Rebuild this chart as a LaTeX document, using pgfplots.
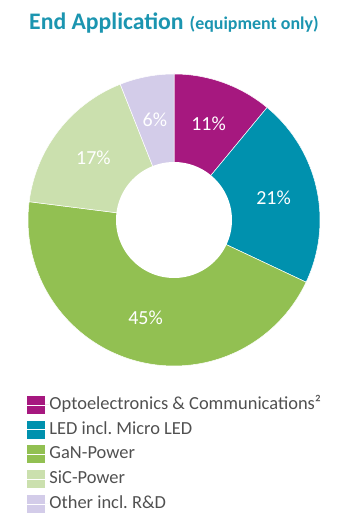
\documentclass[border=0pt]{standalone}
\usepackage{pgfplots}
\pgfplotsset{compat=1.18}
\usepackage{pgfplotstable}
\usepackage{fontspec}
\setmainfont{Carlito}
\frenchspacing
\definecolor{copto}{HTML}{A6187F}
\definecolor{cled}{HTML}{0091AE}
\definecolor{cgan}{HTML}{92C052}
\definecolor{csic}{HTML}{CBE0AE}
\definecolor{coth}{HTML}{D3CCE9}
\definecolor{ctitle}{HTML}{1B95B0}
\definecolor{clegend}{HTML}{505050}

\pgfplotstableread{
name value
Opto 11
LED 21
GaN 45
SiC 17
Other 6
}\sharetable

\pgfplotstablegetelem{0}{value}\of\sharetable \edef\vA{\pgfplotsretval}
\pgfplotstablegetelem{1}{value}\of\sharetable \edef\vB{\pgfplotsretval}
\pgfplotstablegetelem{2}{value}\of\sharetable \edef\vC{\pgfplotsretval}
\pgfplotstablegetelem{3}{value}\of\sharetable \edef\vD{\pgfplotsretval}
\pgfplotstablegetelem{4}{value}\of\sharetable \edef\vE{\pgfplotsretval}
\pgfmathsetmacro\cA{\vA}
\pgfmathsetmacro\cB{\cA+\vB}
\pgfmathsetmacro\cC{\cB+\vC}
\pgfmathsetmacro\cD{\cC+\vD}
\pgfmathsetmacro\cE{\cD+\vE}

% label positions (mid-angle, radius 102)
\newcommand\labelpos[3]{%
  \pgfmathsetmacro\tmpang{90-3.6*(#1+#2)/2}%
  \pgfmathsetmacro\tmpx{174+102*cos(\tmpang)}%
  \pgfmathsetmacro\tmpy{311+102*sin(\tmpang)}%
  \expandafter\xdef\csname lx#3\endcsname{\tmpx}%
  \expandafter\xdef\csname ly#3\endcsname{\tmpy}%
}
\labelpos{0}{\cA}{A}
\labelpos{\cA}{\cB}{B}
\labelpos{\cB}{\cC}{C}
\labelpos{\cC}{\cD}{D}
\labelpos{\cD}{\cE}{E}

\newcommand\slice[4]{%
  \addplot[fill=#3, draw=white, line width=0.5bp, domain={90-3.6*#2}:{90-3.6*#1}, samples=90, variable=\t]
    ({174+146*cos(\t)}, {311+146*sin(\t)}) -- (axis cs:174,311) -- cycle;
  \addlegendentry{#4}
}

\begin{document}
\begin{tikzpicture}
\begin{axis}[
  scale only axis, width=356bp, height=531bp,
  xmin=0, xmax=356, ymin=0, ymax=531,
  hide axis, clip=false,
  legend cell align=left,
  legend image code/.code={\fill[#1, draw=none] (0bp,-9bp) rectangle (18bp,9bp); \path (0bp,0bp) -- (22bp,0bp);},
  legend style={at={(0.07584,0.25424)}, anchor=north west, draw=none, fill=none,
    inner sep=0pt, outer sep=0pt, row sep=6.7bp,
    nodes={inner sep=0pt, text=clegend, font=\fontsize{18.5}{22}\selectfont, text height=13.5bp, text depth=4.5bp}},
]
\path (axis cs:0,0) rectangle (axis cs:356,531);
\slice{0}{\cA}{copto}{Optoelectronics \& Communications²}
\slice{\cA}{\cB}{cled}{LED incl. Micro LED}
\slice{\cB}{\cC}{cgan}{GaN-Power}
\slice{\cC}{\cD}{csic}{SiC-Power}
\slice{\cD}{\cE}{coth}{Other incl. R\&D}
\addplot[fill=white, draw=none, domain=0:360, samples=120, forget plot]
  ({174+58*cos(x)}, {311+58*sin(x)}) -- cycle;
\node[text=white, font=\fontsize{20}{24}\selectfont, inner sep=0pt] at (axis cs:\lxA,\lyA) {\vA\%};
\node[text=white, font=\fontsize{20}{24}\selectfont, inner sep=0pt] at (axis cs:\lxB,\lyB) {\vB\%};
\node[text=white, font=\fontsize{20}{24}\selectfont, inner sep=0pt] at (axis cs:\lxC,\lyC) {\vC\%};
\node[text=white, font=\fontsize{20}{24}\selectfont, inner sep=0pt] at (axis cs:\lxD,\lyD) {\vD\%};
\node[text=white, font=\fontsize{20}{24}\selectfont, inner sep=0pt] at (axis cs:\lxE,\lyE) {\vE\%};
\node[anchor=base west, inner sep=0pt, text=ctitle] at (axis cs:29,501)
  {{\fontsize{23.8}{28}\selectfont\bfseries End Application}\hspace{6bp}{\fontsize{18}{22}\selectfont\bfseries (equipment only)}};
\end{axis}
\end{tikzpicture}
\end{document}
